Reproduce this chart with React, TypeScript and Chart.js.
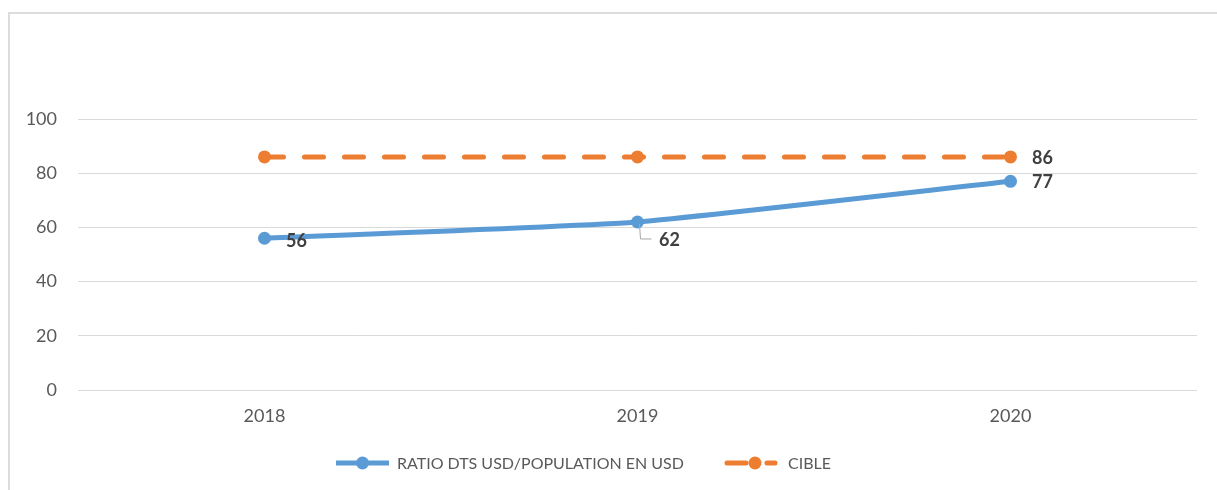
import React, { useEffect, useRef } from "react";
import { Chart, registerables } from "chart.js";

Chart.register(...registerables);

const categories = ["2018", "2019", "2020"];
const ratioValues = [56, 62, 77];
const cibleValues = [86, 86, 86];
const yTicks = [0, 20, 40, 60, 80, 100];
const seriesNames = ["RATIO DTS USD/POPULATION EN USD", "CIBLE"];

const BLUE = "#5B9BD5";
const ORANGE = "#ED7D31";
const FONT = "Lato, 'Open Sans', sans-serif";

// label placement relative to point: [dx, dy, leader] or null (no label)
const labelPlacement: (null | [number, number, boolean])[][] = [
  [
    [32, 2, false],
    [32, 17, true],
    [32, 0, false],
  ],
  [null, null, [32, 0, false]],
];

const decorPlugin = {
  id: "decor",
  beforeDraw(chart: any) {
    const ctx = chart.ctx;
    ctx.save();
    ctx.fillStyle = "#ffffff";
    ctx.fillRect(0, 0, chart.width, chart.height);
    ctx.strokeStyle = "#dcdcdc";
    ctx.lineWidth = 2;
    ctx.strokeRect(9, 13, chart.width + 50, chart.height + 50);
    ctx.restore();
  },
  afterDatasetsDraw(chart: any) {
    const ctx = chart.ctx;
    ctx.save();
    ctx.font = `bold 18px ${FONT}`;
    ctx.fillStyle = "#404040";
    ctx.textAlign = "center";
    ctx.textBaseline = "middle";
    chart.data.datasets.forEach((ds: any, di: number) => {
      const meta = chart.getDatasetMeta(di);
      meta.data.forEach((pt: any, i: number) => {
        const pl = labelPlacement[di][i];
        if (!pl) return;
        const [dx, dy, leader] = pl;
        if (leader) {
          ctx.save();
          ctx.strokeStyle = "#a6a6a6";
          ctx.lineWidth = 1;
          ctx.beginPath();
          ctx.moveTo(pt.x + 2, pt.y + 2);
          ctx.lineTo(pt.x + 3, pt.y + dy);
          ctx.lineTo(pt.x + 14, pt.y + dy);
          ctx.stroke();
          ctx.restore();
        }
        ctx.fillText(String(ds.data[i]), pt.x + dx, pt.y + dy + 1);
      });
    });
    ctx.restore();
  },
  afterDraw(chart: any) {
    const ctx = chart.ctx;
    const y = 463;
    const items = [
      { x0: 336, x1: 389, color: BLUE, dash: [] as number[], text: seriesNames[0], tx: 397 },
      { x0: 727, x1: 775, color: ORANGE, dash: [19, 21], text: seriesNames[1], tx: 788 },
    ];
    ctx.save();
    items.forEach((it, idx) => {
      ctx.strokeStyle = it.color;
      ctx.lineWidth = 5;
      ctx.lineCap = idx === 0 ? "butt" : "round";
      ctx.setLineDash(it.dash);
      ctx.beginPath();
      ctx.moveTo(it.x0, y);
      ctx.lineTo(it.x1, y);
      ctx.stroke();
      ctx.setLineDash([]);
      ctx.fillStyle = it.color;
      ctx.beginPath();
      ctx.arc((it.x0 + it.x1) / 2 + (idx === 0 ? 0 : 4), y, 6.5, 0, Math.PI * 2);
      ctx.fill();
      ctx.fillStyle = "#595959";
      ctx.font = `16px ${FONT}`;
      ctx.textAlign = "left";
      ctx.textBaseline = "middle";
      ctx.fillText(it.text, it.tx, y + 1);
    });
    ctx.restore();
  },
};

export default function App() {
  const ref = useRef<HTMLCanvasElement | null>(null);
  useEffect(() => {
    if (!ref.current) return;
    const chart = new Chart(ref.current, {
      type: "line",
      data: {
        labels: categories,
        datasets: [
          {
            label: seriesNames[0],
            data: ratioValues,
            borderColor: BLUE,
            backgroundColor: BLUE,
            borderWidth: 5,
            pointRadius: 6.5,
            pointBackgroundColor: BLUE,
            pointBorderWidth: 0,
            tension: 0.15,
            borderCapStyle: "round",
          },
          {
            label: seriesNames[1],
            data: cibleValues,
            borderColor: ORANGE,
            backgroundColor: ORANGE,
            borderWidth: 5,
            borderDash: [19, 21],
            borderCapStyle: "round",
            pointRadius: 6.5,
            pointBackgroundColor: ORANGE,
            pointBorderWidth: 0,
          },
        ],
      },
      options: {
        responsive: false,
        animation: false,
        layout: { padding: { top: 119, right: 20, left: 0, bottom: 0 } },
        plugins: {
          legend: { display: false },
          tooltip: { enabled: false },
        },
        scales: {
          x: {
            offset: true,
            grid: { display: false, drawTicks: false },
            border: { display: false },
            ticks: {
              color: "#595959",
              font: { family: FONT, size: 18 },
              padding: 15,
            },
            afterFit(scale: any) {
              scale.height = 100;
            },
          },
          y: {
            min: 0,
            max: 100,
            afterBuildTicks(scale: any) {
              scale.ticks = yTicks.map((v) => ({ value: v }));
            },
            grid: { color: "#d9d9d9", lineWidth: 1, drawTicks: false },
            border: { display: false },
            ticks: {
              color: "#595959",
              font: { family: FONT, size: 18 },
              padding: 21,
            },
            afterFit(scale: any) {
              scale.width = 78;
            },
          },
        },
      },
      plugins: [decorPlugin],
    });
    return () => chart.destroy();
  }, []);
  return (
    <div style={{ position: "fixed", left: 0, top: 0, width: 1217, height: 490 }}>
      <canvas ref={ref} width={1217} height={490} style={{ display: "block", width: 1217, height: 490 }} />
    </div>
  );
}
